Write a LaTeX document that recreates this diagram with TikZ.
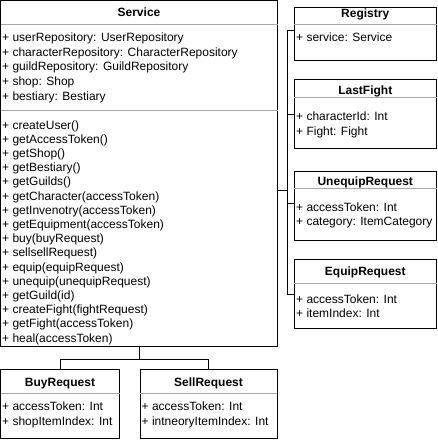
\documentclass[tikz,border=0pt]{standalone}
\usepackage{fontspec}
\setmainfont{Liberation Sans}
\usepackage{tikz}
\usetikzlibrary{positioning,calc}

\begin{document}
\begin{tikzpicture}[x=1pt,y=-1pt,
    classbox/.style={draw=black, line width=1pt, anchor=north west, inner sep=0pt, outer sep=0pt},
    headlabel/.style={anchor=base, font=\fontsize{12}{14}\selectfont\bfseries, inner sep=0pt},
    rowlabel/.style={anchor=base west, font=\fontsize{12}{14}\selectfont, inner sep=0pt},
    divider/.style={draw=black!35, line width=1pt},
    link/.style={draw=black, line width=1pt}]

    \useasboundingbox (0,0) rectangle (438,440);

    % service class
    \node[classbox, minimum width=277pt, minimum height=345.5pt] (service) at (0.5,0.5) {};
    \draw[divider] ([yshift=-23.5pt]service.north west) -- ([yshift=-23.5pt]service.north east);
    \draw[divider] ([yshift=-109.5pt]service.north west) -- ([yshift=-109.5pt]service.north east);
    \node[headlabel] (servicetitle) at ([yshift=-15.5pt]service.north) {Service};
    \foreach \txt [count=\i from 0] in {+ userRepository: UserRepository, + characterRepository: CharacterRepository, + guildRepository: GuildRepository, + shop: Shop, + bestiary: Bestiary}
        \node[rowlabel] (sattr\i) at ([xshift=1.5pt,yshift=-40.8pt-14.8pt*\i]service.north west) {\txt};
    \foreach \txt [count=\i from 0] in {+ createUser(), + getAccessToken(), + getShop(), + getBestiary(), + getGuilds(), + getCharacter(accessToken), + getInvenotry(accessToken), + getEquipment(accessToken), + buy(buyRequest), + sellsellRequest), + equip(equipRequest), + unequip(unequipRequest), + getGuild(id), + createFight(fightRequest), + getFight(accessToken), + heal(accessToken)}
        \node[rowlabel] (smeth\i) at ([xshift=1.5pt,yshift=-128.5pt-14.2pt*\i]service.north west) {\txt};

    % right column
    \node[classbox, minimum width=142.5pt, minimum height=53pt] (registry) at (294,7) {};
    \draw[divider] ([yshift=-17pt]registry.north west) -- ([yshift=-17pt]registry.north east);
    \node[headlabel] (registrytitle) at ([yshift=-10.5pt]registry.north) {Registry};
    \node[rowlabel] (regattr) at ([xshift=2pt,yshift=-34pt]registry.north west) {+ service: Service};

    \node[classbox, minimum width=142.5pt, minimum height=69pt] (lastfight) at (294,79) {};
    \draw[divider] ([yshift=-18pt]lastfight.north west) -- ([yshift=-18pt]lastfight.north east);
    \node[headlabel] (lastfighttitle) at ([yshift=-15pt]lastfight.north) {LastFight};
    \node[rowlabel] (lfattra) at ([xshift=2pt,yshift=-41.5pt]lastfight.north west) {+ characterId: Int};
    \node[rowlabel] (lfattrb) at ([xshift=2pt,yshift=-56.5pt]lastfight.north west) {+ Fight: Fight};

    \node[classbox, minimum width=142.5pt, minimum height=69pt] (unequipreq) at (294,171) {};
    \draw[divider] ([yshift=-17pt]unequipreq.north west) -- ([yshift=-17pt]unequipreq.north east);
    \node[headlabel] (unequiptitle) at ([yshift=-14.5pt]unequipreq.north) {UnequipRequest};
    \node[rowlabel] (ueattra) at ([xshift=2pt,yshift=-40.3pt]unequipreq.north west) {+ accessToken: Int};
    \node[rowlabel] (ueattrb) at ([xshift=2pt,yshift=-54.7pt]unequipreq.north west) {+ category: ItemCategory};

    \node[classbox, minimum width=142.5pt, minimum height=69pt] (equipreq) at (294,259) {};
    \draw[divider] ([yshift=-24pt]equipreq.north west) -- ([yshift=-24pt]equipreq.north east);
    \node[headlabel] (equiptitle) at ([yshift=-16pt]equipreq.north) {EquipRequest};
    \node[rowlabel] (eqattra) at ([xshift=2pt,yshift=-44pt]equipreq.north west) {+ accessToken: Int};
    \node[rowlabel] (eqattrb) at ([xshift=2pt,yshift=-58.3pt]equipreq.north west) {+ itemIndex: Int};

    % bottom row
    \node[classbox, minimum width=119pt, minimum height=69pt] (buyreq) at (0.5,369) {};
    \draw[divider] ([yshift=-24pt]buyreq.north west) -- ([yshift=-24pt]buyreq.north east);
    \node[headlabel] (buytitle) at ([yshift=-17pt]buyreq.north) {BuyRequest};
    \node[rowlabel] (buyattra) at ([xshift=1.5pt,yshift=-41.7pt]buyreq.north west) {+ accessToken: Int};
    \node[rowlabel] (buyattrb) at ([xshift=1.5pt,yshift=-56.7pt]buyreq.north west) {+ shopItemIndex: Int};

    \node[classbox, minimum width=137pt, minimum height=69pt] (sellreq) at (140,369) {};
    \draw[divider] ([yshift=-24pt]sellreq.north west) -- ([yshift=-24pt]sellreq.north east);
    \node[headlabel] (selltitle) at ([yshift=-17pt]sellreq.north) {SellRequest};
    \node[rowlabel] (sellattra) at ([xshift=1.5pt,yshift=-41.7pt]sellreq.north west) {+ accessToken: Int};
    \node[rowlabel] (sellattrb) at ([xshift=1.5pt,yshift=-56.7pt]sellreq.north west) {+ intneoryItemIndex: Int};

    % connectors
    \coordinate (srvout) at ([yshift=-189.5pt]service.north east);
    \coordinate (bus) at ([xshift=9.5pt]srvout);
    \draw[link] (srvout) -- (bus) |- ([yshift=-23pt]registry.north west);
    \draw[link] (srvout) -- (bus) |- ([yshift=-35pt]lastfight.north west);
    \draw[link] (srvout) -- (bus) |- ([yshift=-32.7pt]unequipreq.north west);
    \draw[link] (srvout) -- (bus) |- ([yshift=-35pt]equipreq.north west);
    \draw[link] (service.south) -- ++(0,13) -| (buyreq.north);
    \draw[link] (service.south) -- ++(0,13) -| (sellreq.north);
\end{tikzpicture}
\end{document}
